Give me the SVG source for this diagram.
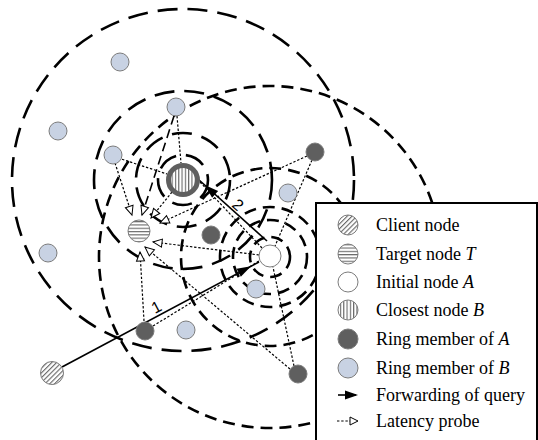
<svg xmlns="http://www.w3.org/2000/svg" width="538" height="440" viewBox="0 0 538 440">
  <defs>
    <pattern id="hatch-diag" patternUnits="userSpaceOnUse" width="3.4" height="3.4" patternTransform="rotate(45)">
      <rect width="3.4" height="3.4" fill="#fff"/>
      <line x1="0.6" y1="0" x2="0.6" y2="3.4" stroke="#555" stroke-width="1"/>
    </pattern>
    <pattern id="hatch-horiz" patternUnits="userSpaceOnUse" width="4" height="3.3">
      <rect width="4" height="3.3" fill="#fff"/>
      <line x1="0" y1="0.6" x2="4" y2="0.6" stroke="#555" stroke-width="1"/>
    </pattern>
    <pattern id="hatch-vert" patternUnits="userSpaceOnUse" width="3.3" height="4">
      <rect width="3.3" height="4" fill="#fff"/>
      <line x1="0.6" y1="0" x2="0.6" y2="4" stroke="#555" stroke-width="1"/>
    </pattern>
    <!-- filled head for query forwarding, tip set back from the line end -->
    <marker id="fwd-head" markerUnits="userSpaceOnUse" markerWidth="14" markerHeight="10" viewBox="0 0 14 10" refX="23" refY="5" orient="auto" overflow="visible">
      <path d="M0,0.5 L14,5 L0,9.5 z" fill="#000"/>
    </marker>
    <!-- open head for latency probes -->
    <marker id="probe-head" markerUnits="userSpaceOnUse" markerWidth="10" markerHeight="9" viewBox="0 0 10 9" refX="9.5" refY="4.5" orient="auto" overflow="visible">
      <path d="M0.5,0.5 L9.5,4.5 L0.5,8.5 z" fill="#fff" stroke="#000" stroke-width="1"/>
    </marker>
    <marker id="open-chevron" markerUnits="userSpaceOnUse" markerWidth="8" markerHeight="8" viewBox="0 0 8 8" refX="7" refY="4" orient="auto" overflow="visible">
      <path d="M0.5,0.5 L7,4 L0.5,7.5" fill="none" stroke="#000" stroke-width="1.3"/>
    </marker>
  </defs>
  <style>
    .ring-b { fill: none; stroke: #000; stroke-width: 2.6; stroke-dasharray: 20 10; }
    .ring-a { fill: none; stroke: #000; stroke-width: 2.6; stroke-dasharray: 12 7; }
    .probe { fill: none; stroke: #000; stroke-width: 1.2; stroke-dasharray: 2.4 1.8; }
    .probe-arrow { marker-end: url(#probe-head); }
    .fwd { fill: none; stroke: #000; stroke-width: 1.6; marker-end: url(#fwd-head); }
    .nd { stroke: #7c7c7c; stroke-width: 1; }
    .mem-b { fill: #c8d2e3; }
    .mem-a { fill: #5f5f5f; }
    .lbl { font-family: "Liberation Serif", "Times New Roman", serif; font-size: 18px; fill: #000; }
    .step { font-family: "Liberation Sans", Arial, sans-serif; font-size: 16px; fill: #000; }
  </style>

  <rect width="538" height="440" fill="#fff"/>

  <!-- rings of closest node B -->
  <g id="rings-b">
    <circle class="ring-b" cx="183" cy="180" r="25"/>
    <circle class="ring-b" cx="183" cy="180" r="47"/>
    <circle class="ring-b" cx="183" cy="180" r="89"/>
    <circle class="ring-b" cx="183" cy="180" r="171"/>
  </g>

  <!-- rings of initial node A -->
  <g id="rings-a">
    <circle class="ring-a" cx="270" cy="257" r="20"/>
    <circle class="ring-a" cx="270" cy="257" r="37"/>
    <circle class="ring-a" cx="270" cy="257" r="50"/>
    <circle class="ring-a" cx="270" cy="257" r="89"/>
    <circle class="ring-a" cx="270" cy="257" r="171"/>
  </g>

  <g id="connectors">
    <!-- requests from A and B to their ring members -->
    <line class="probe" x1="118" y1="158" x2="167" y2="174"/>
    <line class="probe" x1="177" y1="116" x2="181" y2="163"/>
    <line class="probe" x1="312" y1="160" x2="275" y2="246"/>
    <line class="probe" x1="153" y1="326" x2="259" y2="261"/>
    <line class="probe" x1="294" y1="366" x2="273" y2="267"/>
    <line class="probe" x1="200" y1="182" x2="262" y2="248"/>
    <!-- latency probes towards target T -->
    <line class="probe probe-arrow" x1="115" y1="163" x2="132" y2="215"/>
    <line x1="174" y1="116" x2="142" y2="215" fill="none" stroke="#000" stroke-width="1.6" stroke-dasharray="9 5" marker-end="url(#probe-head)" marker-start="url(#open-chevron)"/>
    <line class="probe probe-arrow" x1="172" y1="192" x2="151" y2="218"/>
    <line class="probe probe-arrow" x1="307" y1="156" x2="160" y2="223"/>
    <line class="probe probe-arrow" x1="259" y1="255" x2="153" y2="242"/>
    <line class="probe probe-arrow" x1="290" y1="369" x2="145" y2="247"/>
    <line class="probe probe-arrow" x1="144" y1="321" x2="140" y2="252"/>
    <!-- query forwarding: client to A, then A to B -->
    <line class="fwd" x1="62" y1="367" x2="259" y2="262"/>
    <line class="fwd" x1="267" y1="241" x2="198" y2="179"/>
    <text class="step" transform="translate(155,314) rotate(-28)">1</text>
    <text class="step" transform="translate(231,206) rotate(41.5)">2</text>
  </g>

  <!-- ring members of B -->
  <g id="b-member-1"><circle class="nd mem-b" cx="120" cy="62" r="9"/></g>
  <g id="b-member-2"><circle class="nd mem-b" cx="58" cy="131" r="9"/></g>
  <g id="b-member-3"><circle class="nd mem-b" cx="176" cy="107" r="9"/></g>
  <g id="b-member-4"><circle class="nd mem-b" cx="113" cy="155" r="9"/></g>
  <g id="b-member-5"><circle class="nd mem-b" cx="288" cy="193" r="9"/></g>
  <g id="b-member-6"><circle class="nd mem-b" cx="48" cy="253" r="9"/></g>
  <g id="b-member-7"><circle class="nd mem-b" cx="186" cy="330" r="9"/></g>
  <g id="b-member-8"><circle class="nd mem-b" cx="256" cy="289" r="9"/></g>

  <!-- ring members of A -->
  <g id="a-member-1"><circle class="nd mem-a" cx="315" cy="152" r="9"/></g>
  <g id="a-member-2"><circle class="nd mem-a" cx="211" cy="235" r="9"/></g>
  <g id="a-member-3"><circle class="nd mem-a" cx="145" cy="331" r="9"/></g>
  <g id="a-member-4"><circle class="nd mem-a" cx="298" cy="374" r="9"/></g>

  <g id="client-node"><circle class="nd" cx="52" cy="373" r="11.5" fill="url(#hatch-diag)"/></g>
  <g id="target-node"><circle class="nd" cx="139" cy="231" r="11" fill="url(#hatch-horiz)"/></g>
  <g id="initial-node"><circle class="nd" cx="270" cy="256" r="11" fill="#fff"/></g>
  <g id="closest-node">
    <circle cx="183" cy="180" r="14.5" fill="url(#hatch-vert)" stroke="#5f5f5f" stroke-width="5"/>
  </g>

  <!-- legend -->
  <g id="legend">
    <rect x="316" y="203" width="221" height="240" fill="#fff" stroke="#000" stroke-width="2"/>
    <circle class="nd" cx="348" cy="225" r="10" fill="url(#hatch-diag)"/>
    <text class="lbl" x="376" y="231">Client node</text>
    <circle class="nd" cx="348" cy="254" r="10" fill="url(#hatch-horiz)"/>
    <text class="lbl" x="376" y="260">Target node <tspan font-style="italic">T</tspan></text>
    <circle class="nd" cx="348" cy="282" r="10" fill="#fff"/>
    <text class="lbl" x="376" y="288">Initial node <tspan font-style="italic">A</tspan></text>
    <circle class="nd" cx="348" cy="310" r="10" fill="url(#hatch-vert)"/>
    <text class="lbl" x="376" y="316">Closest node <tspan font-style="italic">B</tspan></text>
    <circle class="nd mem-a" cx="348" cy="339" r="10"/>
    <text class="lbl" x="376" y="345">Ring member of <tspan font-style="italic">A</tspan></text>
    <circle class="nd mem-b" cx="348" cy="368" r="10"/>
    <text class="lbl" x="376" y="374">Ring member of <tspan font-style="italic">B</tspan></text>
    <line x1="338" y1="395" x2="356" y2="395" stroke="#000" stroke-width="1.6"/>
    <path d="M345,390.5 L358,395 L345,399.5 z" fill="#000"/>
    <text class="lbl" x="376" y="401">Forwarding of query</text>
    <line class="probe" x1="337" y1="421" x2="350" y2="421"/>
    <path d="M350,417 L358,421 L350,425 z" fill="#fff" stroke="#000" stroke-width="1"/>
    <text class="lbl" x="376" y="427">Latency probe</text>
  </g>
</svg>
